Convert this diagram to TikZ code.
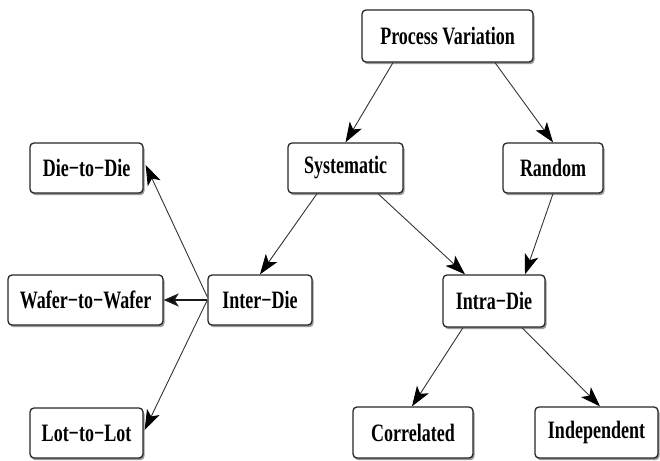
\documentclass[tikz,border=0pt]{standalone}
\usepackage{fontspec}
\setmainfont{Liberation Serif}[FakeStretch=0.72]
\usetikzlibrary{arrows.meta,shadows,calc}
\tikzset{
  box/.style={draw=black!85, line width=1.3pt, rounded corners=4pt, fill=white,
    minimum height=50pt, inner sep=0pt,
    font=\fontsize{25}{29}\selectfont\bfseries,
    drop shadow={shadow xshift=1.5pt, shadow yshift=-2.2pt, opacity=1, fill=black!40}},
  arr/.style={draw=black!80, line width=0.9pt, -{Stealth[length=20pt,width=14pt,inset=5pt,fill=black,color=black]}},
  arrthick/.style={draw=black!90, line width=2pt, -{Stealth[length=15pt,width=13pt,inset=4pt,fill=black]}}
}
\begin{document}
\begin{tikzpicture}[x=1pt,y=-1pt]
\useasboundingbox (0,0) rectangle (660,460);
\node[box, minimum width=171pt, minimum height=52pt] (pv) at (447.5,36) {Process Variation};
\node[box, minimum width=115pt] (sys) at (345.5,168) {Systematic};
\node[box, minimum width=100pt] (rnd) at (553,168) {Random};
\node[box, minimum width=113pt] (d2d) at (86.5,168) {Die−to−Die};
\node[box, minimum width=155pt] (w2w) at (85.5,300) {Wafer−to−Wafer};
\node[box, minimum width=104pt] (inter) at (260,300) {Inter−Die};
\node[box, minimum width=102pt, minimum height=52pt] (intra) at (494,301) {Intra−Die};
\node[box, minimum width=113pt] (l2l) at (86.5,433) {Lot−to−Lot};
\node[box, minimum width=120pt, minimum height=51pt] (cor) at (413,432.5) {Correlated};
\node[box, minimum width=123pt, minimum height=51pt] (ind) at (596.5,432.5) {Independent};

\draw[arr] ($(pv.south)+(-54.5,0)$) -- (sys.north);
\draw[arr] ($(pv.south)+(47.5,0)$) -- (rnd.north);
\draw[arr] ($(sys.south)+(-28.5,0)$) -- (inter.north);
\draw[arr] ($(sys.south)+(32.5,0)$) -- ($(intra.north)+(-29,0)$);
\draw[arr] (rnd.south) -- ($(intra.north)+(31,0)$);
\draw[arr] ($(inter.west)+(0,-3)$) -- ($(d2d.east)+(2,-3)$);
\draw[arrthick] (inter.west) -- (w2w.east);
\draw[arr] (inter.west) -- ($(l2l.east)+(1,-3)$);
\draw[arr] ($(intra.south)+(-31,0)$) -- ($(cor.north)+(-1,0)$);
\draw[arr] ($(intra.south)+(28,0)$) -- ($(ind.north)+(3.5,0)$);
\end{tikzpicture}
\end{document}
